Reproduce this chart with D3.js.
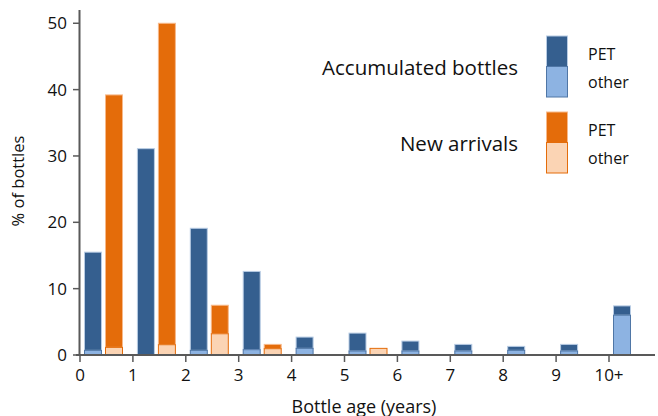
<!DOCTYPE html>
<html>
<head>
<meta charset="utf-8">
<script src="https://cdn.jsdelivr.net/npm/d3@7"></script>
<style>
  html, body { margin: 0; padding: 0; background: #fff; }
  svg text { font-family: "Open Sans", Lato, sans-serif; fill: #111; }
</style>
</head>
<body>
<svg id="chart" width="658" height="416"></svg>
<script>
// ---- data ----
const categories = [0, 1, 2, 3, 4, 5, 6, 7, 8, 9, 10];
const tickLabels = ["0", "1", "2", "3", "4", "5", "6", "7", "8", "9", "10+"];
const yTicks = [0, 10, 20, 30, 40, 50];
// Accumulated bottles (blue): total % and "other" part
const accumTotal = [15.5, 31.1, 19.1, 12.6, 2.7, 3.3, 2.1, 1.6, 1.3, 1.6, 7.4];
const accumOther = [0.7, 0.0, 0.7, 0.8, 1.0, 0.6, 0.6, 0.6, 0.7, 0.6, 6.0];
// New arrivals (orange): total % and "other" part
const newTotal = [39.2, 50.0, 7.5, 1.6, 0, 1.0, 0, 0, 0, 0, 0];
const newOther = [1.15, 1.55, 3.2, 0.95, 0, 1.0, 0, 0, 0, 0, 0];

const legendGroups = ["Accumulated bottles", "New arrivals"];
const legendItems = ["PET", "other"];

// ---- styles ----
const C = {
  bluePET: "#355f8f", blueOther: "#8db3e2", blueStrokePET: "#b8cce4", blueStrokeOther: "#4f76a6",
  orangePET: "#e46c0a", orangeOther: "#fbd4b4", orangeStrokePET: "#f7b98a", orangeStrokeOther: "#e46c0a",
  axis: "#595959"
};

const svg = d3.select("#chart");
const x = d3.scaleLinear().domain([0, 10]).range([80, 609]);
const y = d3.scaleLinear().domain([0, 52]).range([355, 10]);

// bars
function drawSeries(totals, others, offset, width, fillPET, fillOther, strokePET, strokeOther) {
  const g = svg.append("g");
  categories.forEach((c, i) => {
    const t = totals[i], o = others[i];
    if (t <= 0) return;
    const bx = x(c) + offset;
    if (t - o > 0.01) {
      g.append("rect")
        .attr("x", bx).attr("width", width)
        .attr("y", y(t)).attr("height", y(o) - y(t))
        .attr("fill", fillPET).attr("stroke", strokePET).attr("stroke-width", 1);
    }
    if (o > 0) {
      g.append("rect")
        .attr("x", bx).attr("width", width)
        .attr("y", y(o)).attr("height", y(0) - y(o))
        .attr("fill", fillOther).attr("stroke", strokeOther).attr("stroke-width", 1);
    }
  });
}
drawSeries(accumTotal, accumOther, 4.5, 17, C.bluePET, C.blueOther, C.blueStrokePET, C.blueStrokeOther);
drawSeries(newTotal, newOther, 25.5, 17, C.orangePET, C.orangeOther, C.orangeStrokePET, C.orangeStrokeOther);

// x axis
const xAxisG = svg.append("g").attr("transform", `translate(0,${y(0)})`);
xAxisG.append("line").attr("x1", 76).attr("x2", 655).attr("y1", 0).attr("y2", 0)
  .attr("stroke", C.axis).attr("stroke-width", 2);
xAxisG.selectAll("line.tk").data(categories).join("line").attr("class", "tk")
  .attr("x1", d => x(d)).attr("x2", d => x(d)).attr("y1", 0).attr("y2", 7)
  .attr("stroke", C.axis).attr("stroke-width", 1.5);
xAxisG.selectAll("text").data(categories).join("text")
  .attr("x", d => x(d)).attr("y", 25.5)
  .attr("text-anchor", "middle").attr("font-size", 17)
  .text((d, i) => tickLabels[i]);

// y axis
const yAxisG = svg.append("g");
yAxisG.append("line").attr("x1", 79.5).attr("x2", 79.5).attr("y1", y(52)).attr("y2", y(0))
  .attr("stroke", C.axis).attr("stroke-width", 2);
yAxisG.selectAll("line.tk").data(yTicks).join("line").attr("class", "tk")
  .attr("x1", 73).attr("x2", 80).attr("y1", d => y(d)).attr("y2", d => y(d))
  .attr("stroke", C.axis).attr("stroke-width", 1.5);
yAxisG.selectAll("text").data(yTicks).join("text")
  .attr("x", 67).attr("y", d => y(d)).attr("dy", "0.35em")
  .attr("text-anchor", "end").attr("font-size", 17)
  .text(d => d);

// axis titles
svg.append("text").attr("x", 364).attr("y", 412.5).attr("text-anchor", "middle")
  .attr("font-size", 18).text("Bottle age (years)");
svg.append("text").attr("transform", "translate(24,181) rotate(-90)")
  .attr("text-anchor", "middle").attr("font-size", 16.5).text("% of bottles");

// legend
const legendTop = [36, 112];
const legendColors = [
  [[C.bluePET, C.blueStrokePET], [C.blueOther, C.blueStrokeOther]],
  [[C.orangePET, C.orangeStrokePET], [C.orangeOther, C.orangeStrokeOther]]
];
legendGroups.forEach((name, gi) => {
  const top = legendTop[gi];
  svg.append("text").attr("x", 518).attr("y", top + 32).attr("dy", "0.35em")
    .attr("text-anchor", "end").attr("font-size", 20.5).text(name);
  legendItems.forEach((it, k) => {
    svg.append("rect").attr("x", 546.5).attr("y", top + k * 30.5).attr("width", 21).attr("height", 30.5)
      .attr("fill", legendColors[gi][k][0]).attr("stroke", legendColors[gi][k][1]).attr("stroke-width", 1);
    svg.append("text").attr("x", 588).attr("y", top + 18 + k * 28).attr("dy", "0.35em")
      .attr("font-size", 16).text(it);
  });
});
</script>
</body>
</html>
